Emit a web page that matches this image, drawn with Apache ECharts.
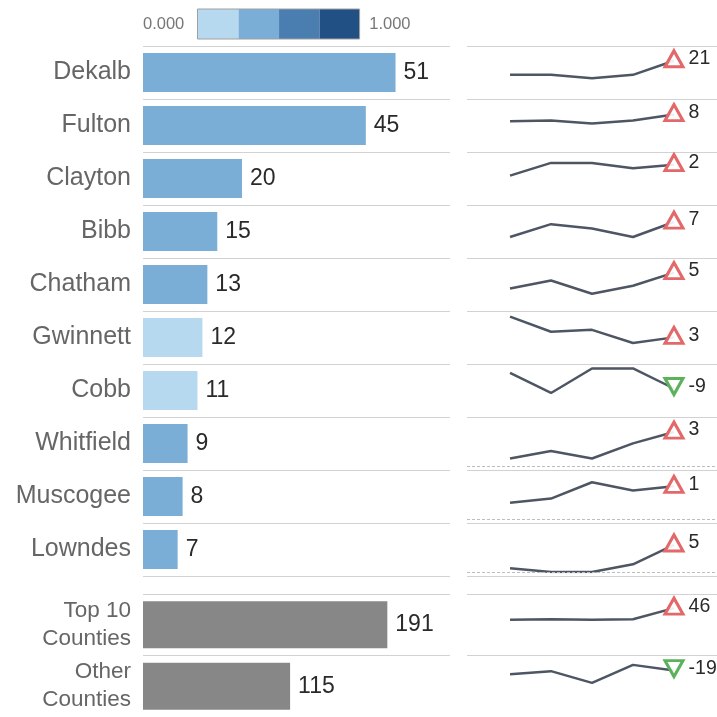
<!DOCTYPE html>
<html><head><meta charset="utf-8">
<script src="https://cdn.jsdelivr.net/npm/echarts@6/dist/echarts.min.js"></script>
<style>html,body{margin:0;padding:0;background:#fff}#c{width:717px;height:717px}</style>
</head><body><div id="c"></div>
<script>
// ---------------- data ----------------
const counties = ['Dekalb','Fulton','Clayton','Bibb','Chatham','Gwinnett','Cobb','Whitfield','Muscogee','Lowndes'];
const counts = [51,45,20,15,13,12,11,9,8,7];
const colorMetric = [0.42,0.40,0.38,0.36,0.34,0.15,0.12,0.31,0.33,0.44];
const groupLabels = ['Top 10\nCounties','Other\nCounties'];
const groupCounts = [191,115];
const trendDekalb    = [30,30,25,30,51];
const trendFulton    = [36,37,33,37,45];
const trendClayton   = [14,21,21,18,20];
const trendBibb      = [8,14,12,8,15];
const trendChatham   = [7,10,5,8,13];
const trendGwinnett  = [23,15,16,9,12];
const trendCobb      = [18,9,20,20,11];
const trendWhitfield = [2,4,2,6,9];
const trendMuscogee  = [4,5,9,7,8];
const trendLowndes   = [1,0,0,2,7];
const trendTop10     = [143,145,143,145,191];
const trendOther     = [103,113,74,134,115];
const changes = [21,8,2,7,5,3,-9,3,1,5,46,-19];
const sparkAxisMax = [73,66,27,23,18.5,26,22,13,12,12.7,250,157];
const zeroLineRows = [false,false,false,false,false,false,false,true,true,true,false,false];
const legendText = ['  1.000','0.000   '];

const trends = [trendDekalb,trendFulton,trendClayton,trendBibb,trendChatham,trendGwinnett,
  trendCobb,trendWhitfield,trendMuscogee,trendLowndes,trendTop10,trendOther];

// ---------------- styling ----------------
const SANS = "'Liberation Sans', Arial, Helvetica, sans-serif";
const NUM = "'Liberation Sans', Arial, Helvetica, sans-serif";
const SEP = '#d2d2d2';
const RED = '#e2686a', GREEN = '#5cb25c', LINE = '#4e5664';

const chart = echarts.init(document.getElementById('c'), null, {renderer:'canvas'});

const grids = [
  {left:143, top:46, width:307, height:530},
  {left:143, top:594, width:307, height:128},
  {left:467, top:46, width:250, height:530},
  {left:467, top:594, width:250, height:128}
];
const xAxes = [
  {gridIndex:0, type:'value', min:0, max:62, show:false},
  {gridIndex:1, type:'value', min:0, max:240, show:false},
  {gridIndex:2, type:'value', show:false},
  {gridIndex:3, type:'value', show:false}
];
function catAxis(gi, data, showLabel, fontSize, lineHeight){
  return {gridIndex:gi, type:'category', data:data, inverse:true,
    axisLine:{show:false}, axisTick:{show:false},
    axisLabel:{show:showLabel, interval:0, margin:12, fontSize:fontSize, lineHeight:lineHeight,
      color:'#666', fontFamily:SANS, align:'right'},
    splitLine:{show:true, interval:0, lineStyle:{color:SEP, width:1}}};
}
const yAxes = [
  catAxis(0, counties, true, 25),
  catAxis(1, groupLabels, true, 22.5, 28),
  catAxis(2, counties, false),
  catAxis(3, groupLabels, false)
];

const barLabel = {show:true, position:'right', distance:8, fontSize:23, fontFamily:NUM, color:'#2a2a2a'};
const series = [
  {type:'bar', xAxisIndex:0, yAxisIndex:0, barWidth:39, silent:true,
   data: counts.map((v,i)=>[v, counties[i], colorMetric[i]]),
   encode:{x:0, y:1},
   label:Object.assign({}, barLabel, {formatter:p=>p.value[0]})},
  {type:'bar', xAxisIndex:1, yAxisIndex:1, barWidth:47, silent:true,
   data: groupCounts, itemStyle:{color:'#878787'},
   label:barLabel}
];

trends.forEach((tr, r)=>{
  const gi = 4 + r;
  let top, height;
  if (r < 10) { top = 46 + 53*r; height = 49; }
  else if (r === 10) { top = 594; height = 60; }
  else { top = 658; height = 47; }
  grids.push({left:467, width:250, top:top, height:height});
  xAxes.push({gridIndex:gi, type:'value', min:-1.05, max:5.05, show:false});
  yAxes.push({gridIndex:gi, type:'value', min:0, max:sparkAxisMax[r], show:false});
  const up = changes[r] >= 0;
  const last = tr.length - 1;
  const s = {
    type:'line', xAxisIndex:gi, yAxisIndex:gi, symbol:'none', silent:true,
    lineStyle:{color:LINE, width:2.5},
    z:3,
    data: tr.map((v,k)=> k===last ? {
      value:[k,v], symbol:'triangle', symbolSize:[18,16], symbolRotate: up?0:180,
      symbolOffset:[0,-2],
      itemStyle:{color:'rgba(255,255,255,0.9)', borderColor: up?RED:GREEN, borderWidth:3},
      label:{show:true, position:'right', distance:4, fontSize:19.5, fontFamily:NUM, color:'#2a2a2a',
        formatter: String(changes[r])}
    } : [k,v])
  };
  if (zeroLineRows[r]) {
    s.markLine = {silent:true, symbol:'none', label:{show:false},
      lineStyle:{type:[3,2], color:'#bdbdbd', width:1}, data:[{yAxis:0}]};
  }
  series.push(s);
});

const option = {
  backgroundColor:'#fff',
  animation:false,
  grid: grids, xAxis: xAxes, yAxis: yAxes, series: series,
  visualMap: {
    type:'piecewise', seriesIndex:0, dimension:2, orient:'horizontal',
    left:143, top:9, padding:0, itemWidth:40.5, itemHeight:30, itemGap:0,
    itemSymbol:'rect', showLabel:false, text:legendText, selectedMode:false, hoverLink:false,
    textStyle:{fontSize:16.5, color:'#777', fontFamily:SANS},
    pieces:[
      {min:0, max:0.25, color:'#b7d9ef'},
      {min:0.25, max:0.5, color:'#7aaed6'},
      {min:0.5, max:0.75, color:'#4a7eb1'},
      {min:0.75, max:1, color:'#215084'}
    ]
  },
  graphic:[{type:'rect', silent:true, z:100,
    shape:{x:197.5, y:9, width:162, height:30},
    style:{fill:'none', stroke:'#a0a0a0', lineWidth:1}}]
};
chart.setOption(option);
</script>
</body></html>
